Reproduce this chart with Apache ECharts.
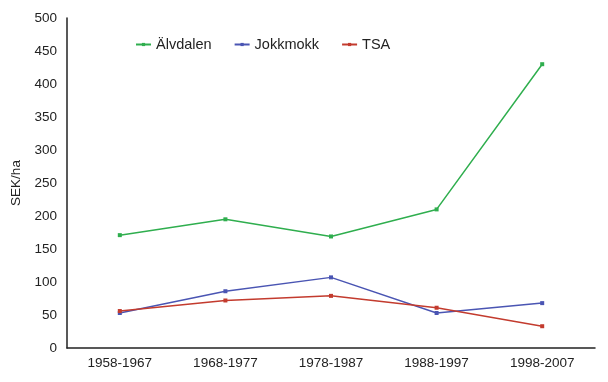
<!DOCTYPE html>
<html>
<head>
<meta charset="utf-8">
<script src="https://cdn.jsdelivr.net/npm/echarts@6/dist/echarts.min.js"></script>
<style>
html,body{margin:0;padding:0;background:#fff;}
#chart{width:608px;height:382px;}
</style>
</head>
<body>
<div id="chart"></div>
<script>
const categories = ['1958-1967', '1968-1977', '1978-1987', '1988-1997', '1998-2007'];
const alvdalen = [171, 195, 169, 210, 430];
const jokkmokk = [53, 86, 107, 53, 68];
const tsa = [56, 72, 79, 61, 33];
const yTicks = { min: 0, max: 500, interval: 50 };

const chart = echarts.init(document.getElementById('chart'));
const font = 'Liberation Sans, Arial, sans-serif';
function mk(name, data, color) {
  return {
    name: name, type: 'line', data: data,
    symbol: 'rect', symbolSize: 4, showSymbol: true,
    lineStyle: { color: color, width: 1.5 },
    itemStyle: { color: color },
    emphasis: { disabled: true }
  };
}
chart.setOption({
  animation: false,
  backgroundColor: '#fff',
  grid: { left: 67, right: 13, top: 18, bottom: 34 },
  legend: {
    left: 130, top: 32, itemWidth: 15, itemHeight: 4, itemGap: 22,
    textStyle: { fontFamily: font, fontSize: 14.5, color: '#222' },
    data: ['Älvdalen', 'Jokkmokk', 'TSA']
  },
  xAxis: {
    type: 'category', data: categories, boundaryGap: true,
    axisLine: { lineStyle: { color: '#222', width: 1.5 } },
    axisTick: { show: false },
    axisLabel: { fontFamily: font, fontSize: 13.5, color: '#222', margin: 8 },
    splitLine: { show: false }
  },
  yAxis: {
    type: 'value', min: yTicks.min, max: yTicks.max, interval: yTicks.interval,
    name: 'SEK/ha', nameLocation: 'middle', nameGap: 43, nameRotate: 90,
    nameTextStyle: { fontFamily: font, fontSize: 13.5, color: '#222' },
    axisLine: { show: true, lineStyle: { color: '#222', width: 1.5 } },
    axisTick: { show: false },
    axisLabel: { fontFamily: font, fontSize: 13.5, color: '#222', margin: 10 },
    splitLine: { show: false }
  },
  series: [
    mk('Älvdalen', alvdalen, '#2fae4e'),
    mk('Jokkmokk', jokkmokk, '#4a55b3'),
    mk('TSA', tsa, '#c33b2e')
  ]
});
</script>
</body>
</html>
